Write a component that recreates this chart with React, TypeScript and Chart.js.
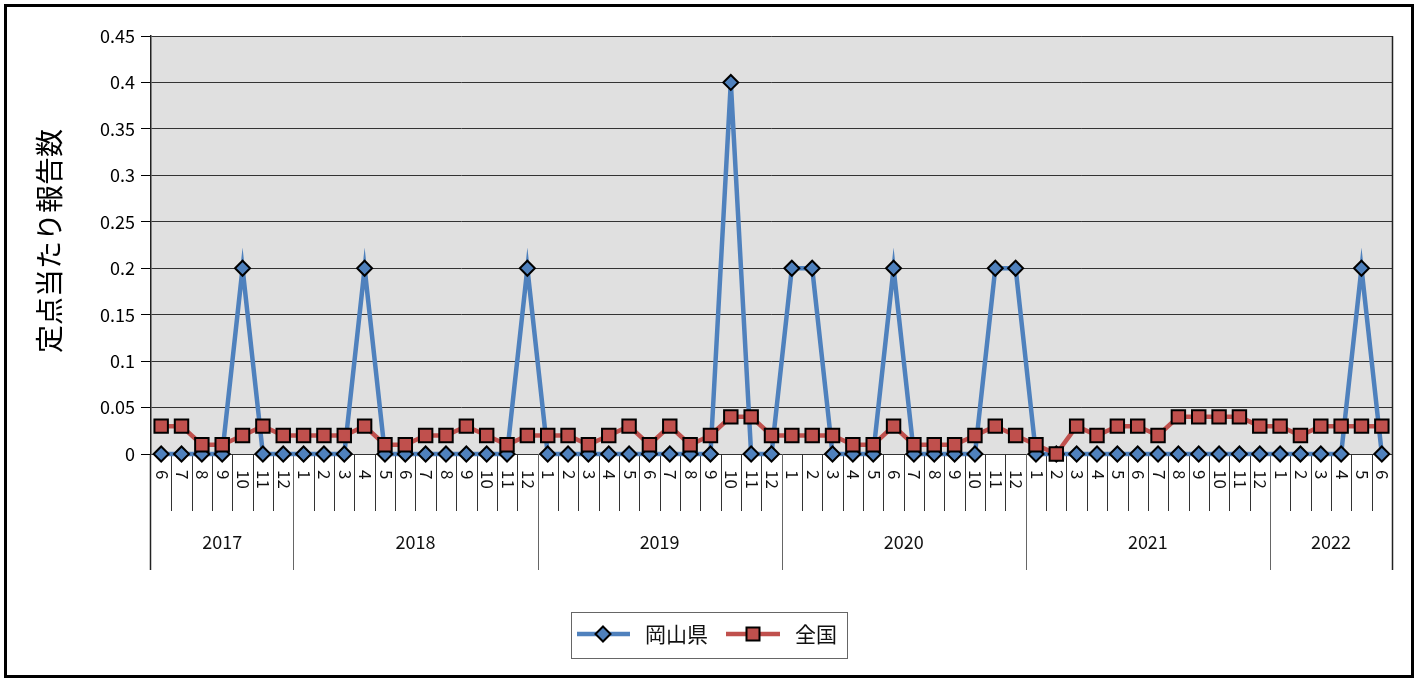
import React, { useEffect, useRef } from "react";
import { Chart, registerables } from "chart.js";

Chart.register(...registerables);

const yearLabels = ["2017", "2018", "2019", "2020", "2021", "2022"];
const yearMonthCounts = [7, 12, 12, 12, 12, 6];
const monthLabels = [
  "6", "7", "8", "9", "10", "11", "12",
  "1", "2", "3", "4", "5", "6", "7", "8", "9", "10", "11", "12",
  "1", "2", "3", "4", "5", "6", "7", "8", "9", "10", "11", "12",
  "1", "2", "3", "4", "5", "6", "7", "8", "9", "10", "11", "12",
  "1", "2", "3", "4", "5", "6", "7", "8", "9", "10", "11", "12",
  "1", "2", "3", "4", "5", "6",
];
const okayamaValues = [
  0, 0, 0, 0, 0.2, 0, 0,
  0, 0, 0, 0.2, 0, 0, 0, 0, 0, 0, 0, 0.2,
  0, 0, 0, 0, 0, 0, 0, 0, 0, 0.4, 0, 0,
  0.2, 0.2, 0, 0, 0, 0.2, 0, 0, 0, 0, 0.2, 0.2,
  0, 0, 0, 0, 0, 0, 0, 0, 0, 0, 0, 0,
  0, 0, 0, 0, 0.2, 0,
];
const nationalValues = [
  0.03, 0.03, 0.01, 0.01, 0.02, 0.03, 0.02,
  0.02, 0.02, 0.02, 0.03, 0.01, 0.01, 0.02, 0.02, 0.03, 0.02, 0.01, 0.02,
  0.02, 0.02, 0.01, 0.02, 0.03, 0.01, 0.03, 0.01, 0.02, 0.04, 0.04, 0.02,
  0.02, 0.02, 0.02, 0.01, 0.01, 0.03, 0.01, 0.01, 0.01, 0.02, 0.03, 0.02,
  0.01, 0, 0.03, 0.02, 0.03, 0.03, 0.02, 0.04, 0.04, 0.04, 0.04, 0.03,
  0.03, 0.02, 0.03, 0.03, 0.03, 0.03,
];
const seriesNames = ["岡山県", "全国"];
const yTitle = "定点当たり報告数";

const BLUE = "#4F81BD";
const RED = "#C0504D";
const FONT = "'Noto Sans CJK JP', 'Noto Sans', sans-serif";

const decorPlugin = {
  id: "decor",
  beforeDraw(chart: any) {
    const { ctx, chartArea } = chart;
    ctx.save();
    ctx.fillStyle = "#ffffff";
    ctx.fillRect(0, 0, chart.width, chart.height);
    ctx.fillStyle = "#E0E0E0";
    ctx.fillRect(chartArea.left, chartArea.top, chartArea.right - chartArea.left, chartArea.bottom - chartArea.top);
    ctx.strokeStyle = "#000";
    ctx.lineWidth = 3;
    ctx.strokeRect(5.5, 5.5, 1407, 671);
    ctx.restore();
  },
  beforeDatasetsDraw(chart: any) {
    const { ctx, chartArea } = chart;
    const xs = chart.scales.x;
    const n = monthLabels.length;
    const cell = (chartArea.right - chartArea.left) / n;
    const bottom = chartArea.bottom;
    const monthRowBottom = 511;
    const yearRowBottom = 570;
    ctx.save();
    ctx.strokeStyle = "#222";
    ctx.lineWidth = 1.5;
    ctx.beginPath();
    ctx.moveTo(Math.round(chartArea.right) + 0.5, chartArea.top);
    ctx.lineTo(Math.round(chartArea.right) + 0.5, yearRowBottom);
    ctx.stroke();
    ctx.beginPath();
    ctx.moveTo(Math.round(chartArea.left) - 0.5, bottom);
    ctx.lineTo(Math.round(chartArea.left) - 0.5, yearRowBottom);
    ctx.stroke();
    ctx.lineWidth = 1;
    ctx.strokeStyle = "#333";
    for (let i = 1; i < n; i++) {
      const x = Math.round(xs.getPixelForValue(i) - cell / 2) + 0.5;
      ctx.beginPath();
      ctx.moveTo(x, bottom);
      ctx.lineTo(x, monthRowBottom);
      ctx.stroke();
    }
    ctx.strokeStyle = "#666";
    let idx = 0;
    for (let y = 0; y < yearMonthCounts.length - 1; y++) {
      idx += yearMonthCounts[y];
      const x = Math.round(xs.getPixelForValue(idx) - cell / 2) + 0.5;
      ctx.beginPath();
      ctx.moveTo(x, bottom);
      ctx.lineTo(x, yearRowBottom);
      ctx.stroke();
    }
    ctx.fillStyle = "#111";
    ctx.font = `17px ${FONT}`;
    ctx.textAlign = "left";
    ctx.textBaseline = "middle";
    for (let i = 0; i < n; i++) {
      const x = xs.getPixelForValue(i);
      ctx.save();
      ctx.translate(x + 1, 470);
      ctx.rotate(Math.PI / 2);
      ctx.fillText(monthLabels[i], 0, 0);
      ctx.restore();
    }
    ctx.font = `18px ${FONT}`;
    ctx.textAlign = "center";
    let start = 0;
    for (let y = 0; y < yearMonthCounts.length; y++) {
      const x0 = xs.getPixelForValue(start) - cell / 2;
      const x1 = xs.getPixelForValue(start + yearMonthCounts[y] - 1) + cell / 2;
      ctx.fillText(yearLabels[y], (x0 + x1) / 2, 542);
      start += yearMonthCounts[y];
    }
    ctx.save();
    ctx.translate(49, 241);
    ctx.rotate(-Math.PI / 2);
    ctx.font = `28px ${FONT}`;
    ctx.textAlign = "center";
    ctx.textBaseline = "middle";
    ctx.fillStyle = "#000";
    ctx.fillText(yTitle, 0, 0);
    ctx.restore();
    ctx.restore();
  },
  afterDraw(chart: any) {
    const { ctx } = chart;
    ctx.save();
    ctx.strokeStyle = "#666";
    ctx.lineWidth = 1;
    ctx.strokeRect(571.5, 612.5, 276, 46);
    const cy = 634;
    ctx.strokeStyle = BLUE;
    ctx.lineWidth = 4.5;
    ctx.beginPath();
    ctx.moveTo(577, cy);
    ctx.lineTo(630, cy);
    ctx.stroke();
    ctx.fillStyle = BLUE;
    ctx.strokeStyle = "#000";
    ctx.lineWidth = 2;
    ctx.beginPath();
    ctx.moveTo(603, cy - 7.5);
    ctx.lineTo(610.5, cy);
    ctx.lineTo(603, cy + 7.5);
    ctx.lineTo(595.5, cy);
    ctx.closePath();
    ctx.fill();
    ctx.stroke();
    ctx.strokeStyle = RED;
    ctx.lineWidth = 4.5;
    ctx.beginPath();
    ctx.moveTo(726, cy);
    ctx.lineTo(780, cy);
    ctx.stroke();
    ctx.fillStyle = RED;
    ctx.strokeStyle = "#000";
    ctx.lineWidth = 2;
    ctx.fillRect(746.5, cy - 6.5, 13, 13);
    ctx.strokeRect(746.5, cy - 6.5, 13, 13);
    ctx.fillStyle = "#111";
    ctx.font = `21px ${FONT}`;
    ctx.textAlign = "left";
    ctx.textBaseline = "middle";
    ctx.fillText(seriesNames[0], 645, cy);
    ctx.fillText(seriesNames[1], 795, cy);
    ctx.restore();
  },
};

export default function App() {
  const canvasRef = useRef<HTMLCanvasElement | null>(null);

  useEffect(() => {
    const canvas = canvasRef.current;
    if (!canvas) return;
    const chart = new Chart(canvas, {
      type: "line",
      data: {
        labels: monthLabels,
        datasets: [
          {
            label: seriesNames[0],
            data: okayamaValues,
            borderColor: BLUE,
            backgroundColor: BLUE,
            borderWidth: 4.5,
            pointStyle: "rectRot",
            pointRadius: 7.5,
            pointBorderColor: "#000",
            pointBorderWidth: 2,
            pointBackgroundColor: BLUE,
            tension: 0,
            clip: false as any,
            order: 1,
          },
          {
            label: seriesNames[1],
            data: nationalValues,
            borderColor: RED,
            backgroundColor: RED,
            borderWidth: 4.5,
            pointStyle: "rect",
            pointRadius: 9.5,
            pointBorderColor: "#000",
            pointBorderWidth: 2,
            pointBackgroundColor: RED,
            tension: 0,
            clip: false as any,
            order: 0,
          },
        ],
      },
      options: {
        responsive: false,
        animation: false,
        layout: { padding: { left: 0, right: 31, top: 36, bottom: 0 } },
        plugins: {
          legend: { display: false },
          tooltip: { enabled: false },
        },
        scales: {
          x: {
            type: "category",
            offset: true,
            grid: { display: false },
            border: { display: false },
            ticks: { display: false },
            afterFit: (scale: any) => {
              scale.height = 225;
            },
          },
          y: {
            min: 0,
            max: 0.45,
            ticks: {
              stepSize: 0.05,
              color: "#000",
              padding: 6,
              font: { family: FONT, size: 18 },
              callback: (v: any) => String(Math.round(Number(v) * 100) / 100),
            },
            grid: {
              color: "#333",
              lineWidth: 1,
              tickLength: 10,
              tickColor: "#000",
            },
            border: { display: true, color: "#222", width: 1.5 },
            afterFit: (scale: any) => {
              scale.width = 151;
            },
          },
        },
      },
      plugins: [decorPlugin],
    });
    return () => chart.destroy();
  }, []);

  return (
    <div style={{ position: "fixed", left: 0, top: 0, width: 1423, height: 679, background: "#fff" }}>
      <canvas ref={canvasRef} width={1423} height={679} style={{ width: 1423, height: 679, display: "block" }} />
    </div>
  );
}
